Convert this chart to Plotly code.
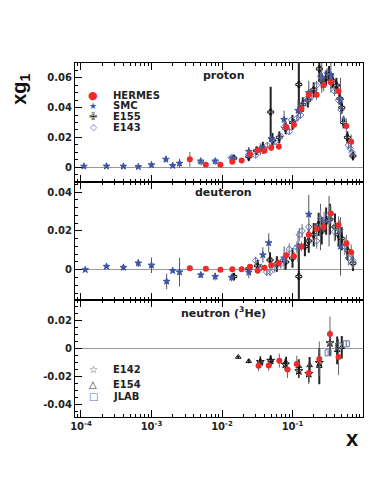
import plotly.graph_objects as go

# ---------------- data ----------------
# proton
hermes_p_x = [0.0035, 0.0059, 0.0095, 0.014, 0.019, 0.025, 0.032, 0.040, 0.050, 0.064,
              0.082, 0.105, 0.134, 0.17, 0.22, 0.277, 0.35, 0.45, 0.58, 0.68]
hermes_p_y = [0.0052, 0.0015, 0.0015, 0.0035, 0.0045, 0.0086, 0.0113, 0.011, 0.013, 0.0138,
              0.027, 0.0285, 0.039, 0.0487, 0.0487, 0.055, 0.057, 0.051, 0.0276, 0.017]
hermes_p_e = [0.005, 0.001, 0.001, 0.001, 0.0012, 0.0015, 0.0018, 0.002, 0.002, 0.0022,
              0.0025, 0.0028, 0.003, 0.003, 0.0035, 0.004, 0.0045, 0.005, 0.005, 0.005]

smc_p_x = [1.1e-4, 2.3e-4, 4.0e-4, 6.5e-4, 1.0e-3, 1.6e-3, 2.0e-3, 2.5e-3, 5.0e-3, 8.0e-3,
           0.014, 0.024, 0.035, 0.05, 0.076, 0.12, 0.17, 0.26, 0.35, 0.48]
smc_p_y = [0.0005, 0.0006, 0.0005, 0.0002, 0.0015, 0.0052, 0.001, 0.0025, 0.004, 0.004,
           0.006, 0.0105, 0.012, 0.019, 0.032, 0.038, 0.05, 0.06, 0.062, 0.045]
smc_p_e = [0.0004, 0.0005, 0.0006, 0.0008, 0.0015, 0.002, 0.0012, 0.003, 0.002, 0.002,
           0.002, 0.003, 0.004, 0.005, 0.006, 0.007, 0.008, 0.01, 0.012, 0.015]

e155_p_x = [0.0147, 0.024, 0.031, 0.038, 0.049, 0.052, 0.065, 0.08, 0.1, 0.123, 0.14, 0.165,
            0.2, 0.24, 0.26, 0.3, 0.33, 0.37, 0.42, 0.47, 0.5, 0.53, 0.6, 0.72]
e155_p_y = [0.006, 0.007, 0.011, 0.013, 0.037, 0.018, 0.02, 0.026, 0.03, 0.0555, 0.042, 0.045,
            0.052, 0.066, 0.058, 0.06, 0.062, 0.058, 0.055, 0.046, 0.04, 0.03, 0.02, 0.0075]
e155_p_e = [0.002, 0.003, 0.003, 0.004, 0.017, 0.005, 0.004, 0.004, 0.005, 0.02, 0.005, 0.005,
            0.005, 0.008, 0.005, 0.005, 0.006, 0.005, 0.005, 0.004, 0.004, 0.004, 0.004, 0.003]

e143_p_x = [0.005, 0.0081, 0.0135, 0.024, 0.030, 0.038, 0.044, 0.056, 0.068, 0.076, 0.09,
            0.097, 0.115, 0.13, 0.137, 0.16, 0.188, 0.22, 0.25, 0.31, 0.35, 0.395, 0.45,
            0.49, 0.53, 0.62, 0.66, 0.70]
e143_p_y = [0.0034, 0.0038, 0.0063, 0.0085, 0.0079, 0.0124, 0.0147, 0.017, 0.0208, 0.027,
            0.0238, 0.0317, 0.0328, 0.035, 0.042, 0.046, 0.0476, 0.055, 0.061, 0.0634, 0.058,
            0.051, 0.045, 0.0385, 0.0317, 0.0147, 0.0125, 0.010]
e143_p_e = [0.001, 0.001, 0.0012, 0.0015, 0.0015, 0.0015, 0.0018, 0.002, 0.002, 0.002, 0.002,
            0.0022, 0.0022, 0.0025, 0.0025, 0.0028, 0.003, 0.003, 0.003, 0.0032, 0.0032,
            0.0032, 0.003, 0.003, 0.003, 0.0025, 0.0025, 0.002]

# deuteron
hermes_d_x = hermes_p_x
hermes_d_y = [0.0008, 0.0005, 0.0, 0.0002, 0.0002, 0.0015, -0.0005, 0.001, 0.0023, 0.0034,
              0.0075, 0.007, 0.012, 0.018, 0.021, 0.022, 0.029, 0.023, 0.0135, 0.009]
hermes_d_e = [0.0015, 0.001, 0.001, 0.001, 0.001, 0.0012, 0.0013, 0.0015, 0.0016, 0.0018,
              0.002, 0.0022, 0.0025, 0.0028, 0.003, 0.0035, 0.004, 0.0045, 0.0045, 0.004]

smc_d_x = [1.15e-4, 2.3e-4, 4.0e-4, 6.5e-4, 1.0e-3, 1.64e-3, 2.0e-3, 2.5e-3, 5.0e-3, 8.0e-3,
           0.0137, 0.024, 0.038, 0.046, 0.076, 0.12, 0.17, 0.25, 0.33, 0.48]
smc_d_y = [0.0, 0.0017, 0.0012, 0.0034, 0.0023, -0.006, -0.0005, -0.0012, -0.0027, -0.0035,
           -0.004, -0.0014, 0.0076, 0.0138, 0.006, 0.012, 0.0285, 0.022, 0.025, 0.012]
smc_d_e = [0.0005, 0.0006, 0.0015, 0.002, 0.004, 0.004, 0.0008, 0.0074, 0.0015, 0.002,
           0.002, 0.003, 0.004, 0.005, 0.006, 0.008, 0.01, 0.012, 0.013, 0.015]

e155_d_x = [0.0147, 0.024, 0.032, 0.048, 0.06, 0.08, 0.1, 0.123, 0.15, 0.17, 0.2, 0.235,
            0.26, 0.3, 0.34, 0.4, 0.45, 0.5, 0.6, 0.72]
e155_d_y = [-0.0035, 0.0005, 0.002, 0.005, 0.003, 0.004, 0.006, -0.0035, 0.012, 0.0148,
            0.018, 0.0233, 0.02, 0.025, 0.026, 0.022, 0.018, 0.016, 0.01, 0.0033]
e155_d_e = [0.002, 0.002, 0.003, 0.004, 0.004, 0.004, 0.005, 0.017, 0.005, 0.006, 0.006,
            0.006, 0.007, 0.007, 0.008, 0.007, 0.006, 0.006, 0.005, 0.004]

e143_d_x = [0.03, 0.036, 0.043, 0.048, 0.056, 0.068, 0.076, 0.09, 0.115, 0.125, 0.137, 0.17,
            0.22, 0.25, 0.28, 0.33, 0.395, 0.47, 0.55, 0.62, 0.72]
e143_d_y = [0.0047, 0.0012, -0.0012, -0.0012, 0.001, 0.003, 0.0056, 0.0106, 0.0115, 0.018,
            0.020, 0.022, 0.0148, 0.0263, 0.0253, 0.0283, 0.0195, 0.0208, 0.012, 0.006, 0.0047]
e143_d_e = [0.002, 0.002, 0.002, 0.002, 0.0025, 0.0025, 0.003, 0.003, 0.003, 0.0035, 0.0035,
            0.004, 0.004, 0.0045, 0.0045, 0.005, 0.005, 0.005, 0.0045, 0.004, 0.004]

# neutron (3He)
hermes_n_x = [0.033, 0.046, 0.065, 0.085, 0.115, 0.17, 0.24, 0.34, 0.45]
hermes_n_y = [-0.0122, -0.012, -0.0086, -0.015, -0.011, -0.0174, -0.0074, 0.0105, -0.006]
hermes_n_e = [0.004, 0.004, 0.005, 0.006, 0.006, 0.008, 0.0125, 0.0125, 0.013]

e142_n_x = [0.035, 0.049, 0.079, 0.123, 0.17, 0.24, 0.34]
e142_n_y = [-0.0095, -0.0086, -0.0114, -0.016, -0.018, -0.0102, 0.004]
e142_n_e = [0.004, 0.004, 0.004, 0.005, 0.006, 0.007, 0.009]

e154_n_x = [0.017, 0.024, 0.035, 0.049, 0.081, 0.123, 0.175, 0.24, 0.43, 0.5]
e154_n_y = [-0.006, -0.009, -0.0095, -0.0084, -0.0098, -0.0126, -0.012, -0.0125, -0.0012, 0.001]
e154_n_e = [0.001, 0.0015, 0.002, 0.003, 0.004, 0.005, 0.006, 0.013, 0.01, 0.008]

jlab_n_x = [0.32, 0.45, 0.58]
jlab_n_y = [-0.003, 0.002, 0.0035]
jlab_n_e = [0.0015, 0.0015, 0.002]

x_tick_vals = [1e-4, 1e-3, 1e-2, 1e-1]
x_tick_text = ["10<sup>-4</sup>", "10<sup>-3</sup>", "10<sup>-2</sup>", "10<sup>-1</sup>"]

# ---------------- styles ----------------
RED = "#ee2a2a"
BLUE = "#3a52a8"
LBLUE = "#5a6fc0"
BLACK = "#111111"
FONT = "DejaVu Sans, Liberation Sans, Arial"

fig = go.Figure()


def add(xs, ys, es, panel, symbol, color, size, ecolor, ethick, lw=1.0):
    fig.add_trace(go.Scatter(
        x=xs, y=ys, mode="markers",
        xaxis="x" if panel == 1 else f"x{panel}",
        yaxis="y" if panel == 1 else f"y{panel}",
        marker=dict(symbol=symbol, color=color, size=size, line=dict(color=color, width=lw)),
        error_y=dict(type="data", array=es, color=ecolor, thickness=ethick, width=0),
        showlegend=False, hoverinfo="skip"))


# proton
add(e155_p_x, e155_p_y, e155_p_e, 1, "cross-open", BLACK, 5, "#222", 2.0)
add(smc_p_x, smc_p_y, smc_p_e, 1, "star", BLUE, 5, "#556", 1.0)
add(e143_p_x, e143_p_y, e143_p_e, 1, "diamond-open", LBLUE, 5, "#667", 1.0)
add(hermes_p_x, hermes_p_y, hermes_p_e, 1, "circle", RED, 6, "#666", 1.0, 0)
# deuteron
add(e155_d_x, e155_d_y, e155_d_e, 2, "cross-open", BLACK, 5, "#222", 2.0)
add(smc_d_x, smc_d_y, smc_d_e, 2, "star", BLUE, 5, "#555", 1.0)
add(e143_d_x, e143_d_y, e143_d_e, 2, "diamond-open", LBLUE, 5, "#888", 1.2)
add(hermes_d_x, hermes_d_y, hermes_d_e, 2, "circle", RED, 6, "#666", 1.0, 0)
# neutron
add(e154_n_x, e154_n_y, e154_n_e, 3, "triangle-up-open", BLACK, 5, "#222", 2.0)
add(e142_n_x, e142_n_y, e142_n_e, 3, "star-open", BLACK, 6, "#222", 1.5)
add(jlab_n_x, jlab_n_y, jlab_n_e, 3, "square-open", LBLUE, 6, "#667", 1.0)
add(hermes_n_x, hermes_n_y, hermes_n_e, 3, "circle", RED, 6, "#666", 1.0, 0)

tickfont = dict(family=FONT, size=10, color="#222", weight="bold")

xcommon = dict(type="log", range=[-4.085, 0.0], showline=True, linecolor="black", linewidth=1,
               mirror="ticks", ticks="inside", ticklen=7, tickcolor="black",
               tickmode="array", tickvals=x_tick_vals, ticktext=x_tick_text,
               minor=dict(ticks="inside", ticklen=3, tickcolor="black", dtick="D1"),
               showgrid=False, zeroline=False, tickfont=tickfont)

ycommon = dict(showline=True, linecolor="black", linewidth=1, mirror=True,
               ticks="inside", ticklen=7, tickcolor="black", showgrid=False,
               zeroline=True, zerolinecolor="#999", zerolinewidth=1, tickfont=tickfont)

fig.update_layout(
    width=374, height=484,
    margin=dict(l=67, r=19, t=55, b=75),
    paper_bgcolor="white", plot_bgcolor="white",
    xaxis=dict(**xcommon, anchor="y", showticklabels=False),
    xaxis2=dict(**xcommon, anchor="y2", matches="x", showticklabels=False),
    xaxis3=dict(**xcommon, anchor="y3", matches="x", showticklabels=True),
    yaxis=dict(**ycommon, domain=[0.664, 1.0], range=[-0.01, 0.07],
               tickvals=[0, 0.02, 0.04, 0.06], ticktext=["0", "0.02", "0.04", "0.06"],
               minor=dict(ticks="inside", ticklen=3, tickcolor="black", dtick=0.005)),
    yaxis2=dict(**ycommon, domain=[0.331, 0.664], range=[-0.0155, 0.0452],
                tickvals=[0, 0.02, 0.04], ticktext=["0", "0.02", "0.04"],
                minor=dict(ticks="inside", ticklen=3, tickcolor="black", dtick=0.004)),
    yaxis3=dict(**ycommon, domain=[0.0, 0.331], range=[-0.049, 0.035],
                tickvals=[-0.04, -0.02, 0, 0.02], ticktext=["-0.04", "-0.02", "0", "0.02"],
                minor=dict(ticks="inside", ticklen=3, tickcolor="black", dtick=0.005)),
    font=dict(family=FONT, color="#222"),
)

ann = []
titlefont = dict(family=FONT, size=11, color="#222", weight="bold")
for txt, yy in [("proton", 0.966), ("deuteron", 0.633), ("neutron (<sup>3</sup>He)", 0.294)]:
    ann.append(dict(text=txt, x=0.517, y=yy, xref="paper", yref="paper",
                    showarrow=False, font=titlefont, xanchor="center", yanchor="middle"))

legfont = dict(family=FONT, size=10, color="#222", weight="bold")
symfont = "DejaVu Sans"
legend_top = [("●", RED, 11, "HERMES", 0.907), ("★", BLUE, 9, "SMC", 0.879),
              ("✙", "#333", 10, "E155", 0.850), ("◇", LBLUE, 9, "E143", 0.819)]
legend_bot = [("☆", "#333", 10, "E142", 0.133), ("△", "#333", 10, "E154", 0.093),
              ("□", LBLUE, 10, "JLAB", 0.0565)]
for sym, col, sz, lab, yy in legend_top + legend_bot:
    ann.append(dict(text=sym, x=0.0625, y=yy, xref="paper", yref="paper", showarrow=False,
                    font=dict(family=symfont, size=sz, color=col), xanchor="center", yanchor="middle"))
    ann.append(dict(text=lab, x=0.125, y=yy, xref="paper", yref="paper", showarrow=False,
                    font=legfont, xanchor="left", yanchor="middle"))

ann.append(dict(text="xg<sub>1</sub>", x=-0.19, y=0.925, xref="paper", yref="paper",
                showarrow=False, textangle=-90,
                font=dict(family="Liberation Sans, Arial", size=20, color="#111", weight="bold"),
                xanchor="center", yanchor="middle"))
ann.append(dict(text="x", x=0.965, y=-0.06, xref="paper", yref="paper", showarrow=False,
                font=dict(family="Liberation Sans, Arial", size=22, color="#111", weight="bold"),
                xanchor="center", yanchor="middle"))
fig.update_layout(annotations=ann)

fig.write_html("out.html")
